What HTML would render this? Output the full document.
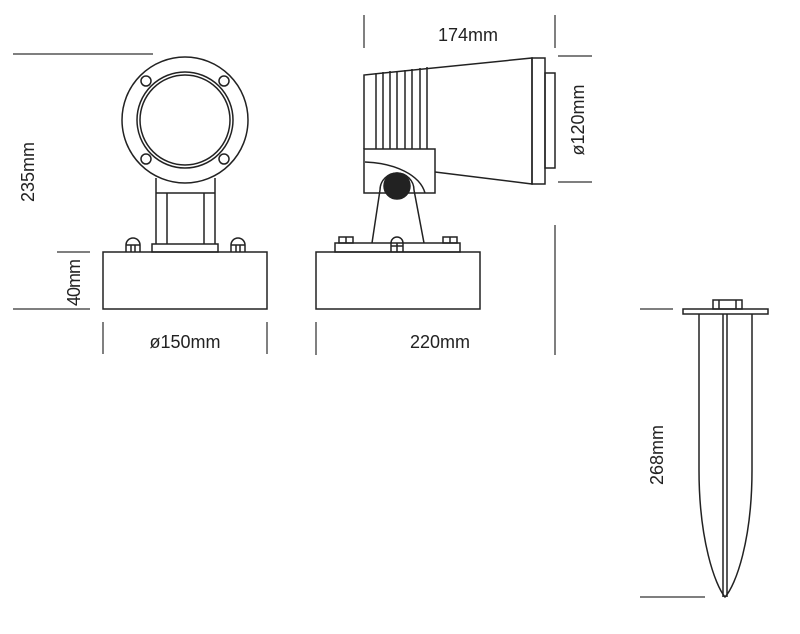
<!DOCTYPE html>
<html><head><style>body{margin:0;background:#fff}svg{display:block}text{font-family:"Liberation Sans",sans-serif;font-size:18px;fill:#222}</style></head><body>
<svg width="800" height="634" viewBox="0 0 800 634" fill="none" stroke="#222" stroke-width="1.5">
<!-- left view -->
<line x1="13" y1="54" x2="153" y2="54" stroke="#555"/>
<circle cx="185" cy="120" r="63"/>
<circle cx="185" cy="120" r="48"/>
<circle cx="185" cy="120" r="45"/>
<circle cx="146" cy="81" r="5"/><circle cx="224" cy="81" r="5"/>
<circle cx="146" cy="159" r="5"/><circle cx="224" cy="159" r="5"/>
<path d="M156 178 V244 M215 178 V244 M156 193 H215 M167 193 V244 M204 193 V244"/>
<rect x="152" y="244" width="66" height="8"/>
<rect x="103" y="252" width="164" height="57"/>
<path d="M126 252 V245 A7 7 0 0 1 140 245 V252 M126 245 H140 M131 245 V252 M135 245 V252"/>
<path d="M231 252 V245 A7 7 0 0 1 245 245 V252 M231 245 H245 M236 245 V252 M240 245 V252"/>
<line x1="57" y1="252" x2="90" y2="252" stroke="#555"/>
<line x1="13" y1="309" x2="90" y2="309" stroke="#555"/>
<line x1="103" y1="322" x2="103" y2="354" stroke="#555"/>
<line x1="267" y1="322" x2="267" y2="354" stroke="#555"/>
<text x="0" y="0" stroke="none" transform="translate(34 172) rotate(-90)" text-anchor="middle">235mm</text>
<text x="0" y="0" stroke="none" transform="translate(80 283) rotate(-90)" text-anchor="middle" style="letter-spacing:-1px">40mm</text>
<text x="185" y="348" stroke="none" text-anchor="middle">ø150mm</text>
<!-- side view -->
<line x1="364" y1="15" x2="364" y2="48" stroke="#555"/>
<line x1="555" y1="15" x2="555" y2="48" stroke="#555"/>
<text x="468" y="41" stroke="none" text-anchor="middle">174mm</text>
<path d="M364 149 V75 L532 58 V184 L435 172"/>
<rect x="532" y="58" width="13" height="126"/>
<rect x="545" y="73" width="10" height="95"/>
<path d="M376 73 V149 M383 72 V149 M390 71 V149 M397 71 V149 M405 70 V149 M412 69 V149 M420 68 V149 M427 67 V149"/>
<rect x="364" y="149" width="71" height="44"/>
<path d="M365 162 C395 163 420 175 425 193"/>
<path d="M372 243 L380 190 A17 17 0 0 1 414 190 L424 243"/>
<circle cx="397" cy="186" r="13" fill="#222"/>
<rect x="335" y="243" width="125" height="9"/>
<rect x="316" y="252" width="164" height="57"/>
<rect x="339" y="237" width="14" height="6"/><path d="M346 237 V243"/>
<rect x="443" y="237" width="14" height="6"/><path d="M450 237 V243"/>
<path d="M391 243 A6 6 0 0 1 403 243 V252 M391 243 V252 M397 243 V252 M391 246 H403"/>
<line x1="558" y1="56" x2="592" y2="56" stroke="#555"/>
<line x1="558" y1="182" x2="592" y2="182" stroke="#555"/>
<text x="0" y="0" stroke="none" transform="translate(584 120) rotate(-90)" text-anchor="middle">ø120mm</text>
<line x1="316" y1="322" x2="316" y2="355" stroke="#555"/>
<line x1="555" y1="225" x2="555" y2="355" stroke="#555"/>
<text x="440" y="348" stroke="none" text-anchor="middle">220mm</text>
<!-- spike -->
<line x1="640" y1="309" x2="673" y2="309" stroke="#555"/>
<line x1="640" y1="597" x2="705" y2="597" stroke="#555"/>
<rect x="713" y="300" width="29" height="9"/><path d="M719 300 V309 M736 300 V309"/>
<rect x="683" y="309" width="85" height="5"/>
<path d="M699 314 V470 C699 540 715 585 725 597 C736 585 752 540 752 470 V314"/>
<path d="M723 314 V597 M727 314 V597"/>
<text x="0" y="0" stroke="none" transform="translate(663 455) rotate(-90)" text-anchor="middle">268mm</text>
</svg>
</body></html>
